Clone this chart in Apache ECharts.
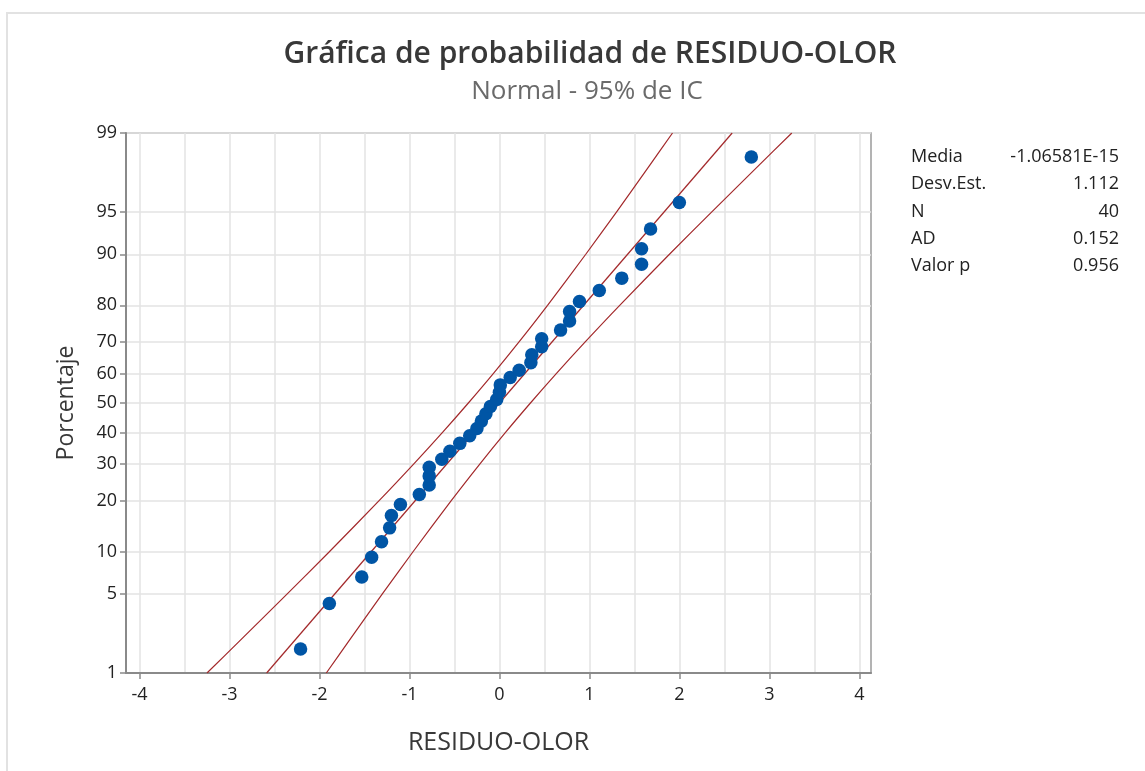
<!DOCTYPE html>
<html>
<head>
<meta charset="utf-8">
<script src="https://cdn.jsdelivr.net/npm/echarts@6/dist/echarts.min.js"></script>
<style>
html,body{margin:0;padding:0;background:#fff;}
#chart{width:1145px;height:771px;}
</style>
</head>
<body>
<div id="chart"></div>
<script>
// Residuals (x), sorted
var residuals = [-2.21, -1.89, -1.53, -1.42, -1.31, -1.22, -1.20, -1.10, -0.89, -0.78,
                 -0.78, -0.78, -0.64, -0.55, -0.44, -0.33, -0.25, -0.20, -0.15, -0.10,
                 -0.03, 0.00, 0.01, 0.12, 0.22, 0.35, 0.36, 0.47, 0.47, 0.68,
                 0.78, 0.78, 0.89, 1.11, 1.36, 1.58, 1.58, 1.68, 2.00, 2.80];
// Plotted percentage of each point
var percents = [1.7, 4.2, 6.7, 9.2, 11.6, 14.1, 16.6, 19.1, 21.5, 24.0,
                26.5, 29.0, 31.4, 33.9, 36.4, 38.9, 41.3, 43.8, 46.3, 48.8,
                51.2, 53.7, 56.2, 58.7, 61.1, 63.6, 66.1, 68.6, 71.0, 73.5,
                76.0, 78.5, 80.9, 83.4, 85.9, 88.4, 90.8, 93.3, 95.8, 98.3];
// Fitted line end points
var fitPercents = [1, 99];
var fitX = [-2.587, 2.587];
// 95% confidence bands
var ciPercents = [1, 2, 5, 10, 20, 30, 40, 50, 60, 70, 80, 90, 95, 98, 99];
var ciLeftX = [-3.250, -2.892, -2.358, -1.890, -1.337, -0.951, -0.632, -0.345, -0.068, 0.216, 0.535, 0.960, 1.301, 1.676, 1.924];
var ciRightX = [-1.924, -1.676, -1.301, -0.960, -0.535, -0.216, 0.068, 0.345, 0.632, 0.951, 1.337, 1.890, 2.358, 2.892, 3.250];
// Tick labels
var yTickPercents = [1, 5, 10, 20, 30, 40, 50, 60, 70, 80, 90, 95, 99];
var xTickValues = [-4, -3, -2, -1, 0, 1, 2, 3, 4];
var xGridValues = [-4, -3.5, -3, -2.5, -2, -1.5, -1, -0.5, 0, 0.5, 1, 1.5, 2, 2.5, 3, 3.5, 4];
// Statistics table
var statLabels = ['Media', 'Desv.Est.', 'N', 'AD', 'Valor p'];
var statValues = ['-1.06581E-15', '1.112', '40', '0.152', '0.956'];

// Normal probability scale: inverse standard normal CDF (Acklam)
function probit(p) {
  var a = [-3.969683028665376e+01, 2.209460984245205e+02, -2.759285104469687e+02, 1.383577518672690e+02, -3.066479806614716e+01, 2.506628277459239e+00];
  var b = [-5.447609879822406e+01, 1.615858368580409e+02, -1.556989798598866e+02, 6.680131188771972e+01, -1.328068155288572e+01];
  var c = [-7.784894002430293e-03, -3.223964580411365e-01, -2.400758277161838e+00, -2.549732539343734e+00, 4.374664141464968e+00, 2.938163982698783e+00];
  var d = [7.784695709041462e-03, 3.224671290700398e-01, 2.445134137142996e+00, 3.754408661907416e+00];
  var pl = 0.02425, q, r;
  if (p < pl) {
    q = Math.sqrt(-2 * Math.log(p));
    return (((((c[0]*q+c[1])*q+c[2])*q+c[3])*q+c[4])*q+c[5]) / ((((d[0]*q+d[1])*q+d[2])*q+d[3])*q+1);
  } else if (p <= 1 - pl) {
    q = p - 0.5; r = q * q;
    return (((((a[0]*r+a[1])*r+a[2])*r+a[3])*r+a[4])*r+a[5])*q / (((((b[0]*r+b[1])*r+b[2])*r+b[3])*r+b[4])*r+1);
  } else {
    q = Math.sqrt(-2 * Math.log(1 - p));
    return -(((((c[0]*q+c[1])*q+c[2])*q+c[3])*q+c[4])*q+c[5]) / ((((d[0]*q+d[1])*q+d[2])*q+d[3])*q+1);
  }
}
function pz(pct) { return probit(pct / 100); }

var yTickZ = yTickPercents.map(pz);
var yMin = pz(1), yMax = pz(99);

function pairs(xs, ps) { return xs.map(function (x, i) { return [x, pz(ps[i])]; }); }

var FONT = '"Open Sans", "Noto Sans", sans-serif';
var TXT = '#222222';
var lineColor = '#a3292b';
var tickRich = { t: { fontFamily: FONT, fontSize: 18, fontWeight: 500, color: TXT } };

var chart = echarts.init(document.getElementById('chart'), null, { renderer: 'canvas' });

var statGraphics = [];
statLabels.forEach(function (lab, i) {
  statGraphics.push({ type: 'text', x: 911, y: 157 + i * 27.2,
    style: { text: lab, fill: TXT, font: '18px ' + FONT, textAlign: 'left', textVerticalAlign: 'middle' } });
  statGraphics.push({ type: 'text', x: 1119, y: 157 + i * 27.2,
    style: { text: statValues[i], fill: TXT, font: '18px ' + FONT, textAlign: 'right', textVerticalAlign: 'middle' } });
});

var option = {
  animation: false,
  backgroundColor: '#ffffff',
  title: [
    { text: 'Gráfica de probabilidad de RESIDUO-OLOR', left: 585, top: 34, textAlign: 'center',
      textStyle: { fontFamily: FONT, fontSize: 30, fontWeight: 600, color: '#383838' } },
    { text: 'Normal - 95% de IC', left: 582, top: 74, textAlign: 'center',
      textStyle: { fontFamily: FONT, fontSize: 26, fontWeight: 'normal', color: '#6a6a6a' } }
  ],
  graphic: [
    { type: 'rect', shape: { x: 7, y: 13, width: 1150, height: 770 },
      style: { fill: 'none', stroke: '#e2e2e2', lineWidth: 2 }, silent: true, z: -10 }
  ].concat(statGraphics),
  grid: { left: 126, top: 133, width: 745, height: 540, show: true,
    borderColor: '#9a9a9a', borderWidth: 1.5, backgroundColor: 'transparent' },
  xAxis: [
    { type: 'value', min: -4.15, max: 4.13, position: 'bottom',
      name: 'RESIDUO-OLOR', nameLocation: 'middle', nameGap: 57,
      nameTextStyle: { fontFamily: FONT, fontSize: 25, color: '#383838' },
      axisLine: { show: true, onZero: false, lineStyle: { color: '#8a8a8a', width: 2 } },
      axisTick: { show: true, customValues: xTickValues, length: 6, inside: false, lineStyle: { color: '#8a8a8a', width: 1.5 } },
      axisLabel: { show: true, customValues: xTickValues, margin: 13, fontFamily: FONT, fontSize: 18, color: TXT,
        rich: tickRich,
        formatter: function (v) { return '{t|' + String(Math.round(v)) + '}'; } },
      splitLine: { show: false }
    },
    { type: 'value', min: -4.15, max: 4.13, position: 'bottom', show: true,
      axisLine: { show: false, onZero: false },
      axisTick: { show: false, customValues: xGridValues },
      axisLabel: { show: false, customValues: xGridValues },
      splitLine: { show: true, lineStyle: { color: '#e3e3e3', width: 1.5 } }
    }
  ],
  yAxis: {
    type: 'value', min: yMin, max: yMax,
    name: 'Porcentaje', nameLocation: 'middle', nameGap: 48, nameRotate: 90,
    nameTextStyle: { fontFamily: FONT, fontSize: 23, color: '#383838' },
    axisLine: { show: true, onZero: false, lineStyle: { color: '#8a8a8a', width: 2 } },
    axisTick: { show: true, customValues: yTickZ, length: 6, lineStyle: { color: '#8a8a8a', width: 1.5 } },
    axisLabel: { show: true, customValues: yTickZ, margin: 9, fontFamily: FONT, fontSize: 18, color: TXT,
      rich: tickRich,
      formatter: function (v) {
        var best = 0, bd = 1e9;
        yTickZ.forEach(function (z, i) { var dd = Math.abs(z - v); if (dd < bd) { bd = dd; best = i; } });
        return '{t|' + String(yTickPercents[best]) + '}';
      } },
    splitLine: { show: true, lineStyle: { color: '#e3e3e3', width: 1.5 } }
  },
  series: [
    { type: 'line', name: 'IC inferior', data: pairs(ciLeftX, ciPercents), showSymbol: false, smooth: 0.3,
      lineStyle: { color: lineColor, width: 1.2 }, silent: true, z: 2 },
    { type: 'line', name: 'Ajuste', data: pairs(fitX, fitPercents), showSymbol: false,
      lineStyle: { color: lineColor, width: 1.2 }, silent: true, z: 2 },
    { type: 'line', name: 'IC superior', data: pairs(ciRightX, ciPercents), showSymbol: false, smooth: 0.3,
      lineStyle: { color: lineColor, width: 1.2 }, silent: true, z: 2 },
    { type: 'scatter', name: 'RESIDUO-OLOR', data: pairs(residuals, percents), symbol: 'circle', symbolSize: 13.5,
      itemStyle: { color: '#0055a5', opacity: 1 }, z: 3 }
  ]
};
chart.setOption(option);
</script>
</body>
</html>
